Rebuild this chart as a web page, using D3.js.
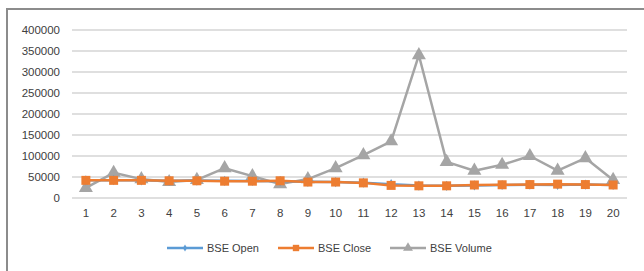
<!DOCTYPE html>
<html><head><meta charset="utf-8">
<script src="https://cdn.jsdelivr.net/npm/d3@7"></script>
<style>body{margin:0;background:#fff;} svg{display:block;}</style>
</head><body>
<svg id="c" width="644" height="271"></svg>
<script>
const categories = d3.range(1, 21).map(String);
const bseOpen   = [42000,42500,42000,41000,41500,41000,40500,40000,38500,38000,36500,33000,29500,29000,30000,31000,31500,31000,32000,31000];
const bseClose  = [42000,42000,42000,41000,41000,40000,40000,41000,38000,38000,36000,30000,29000,29000,31000,31500,32000,33000,32000,31000];
const bseVolume = [24000,60000,45000,38000,43000,71000,52000,33000,45000,71000,102000,135000,340000,86000,65000,79000,100000,65000,95000,43000];
const yTicks = [0,50000,100000,150000,200000,250000,300000,350000,400000];
const seriesNames = ["BSE Open","BSE Close","BSE Volume"];
const colors = ["#5B9BD5","#ED7D31","#A5A5A5"];

const svg = d3.select("#c");
const font = "'Liberation Sans', Arial, sans-serif";
const textColor = "#404040";
// outer border
svg.append("rect").attr("x",7).attr("y",9).attr("width",700).attr("height",300)
  .attr("fill","none").attr("stroke","#8c8c8c").attr("stroke-width",2);

const L = 72, R = 627, T = 30, B = 198;
const x = d3.scaleBand().domain(categories).range([L, R]);
const y = d3.scaleLinear().domain([0, 400000]).range([B, T]);

// gridlines
svg.append("g").selectAll("line").data(yTicks).join("line")
  .attr("x1", L).attr("x2", R).attr("y1", d => y(d)).attr("y2", d => y(d))
  .attr("stroke", "#bfbfbf").attr("stroke-width", 1);

// y axis labels
const yAxis = d3.axisLeft(y).tickValues(yTicks).tickSize(0).tickPadding(0).tickFormat(d3.format("d"));
const gy = svg.append("g").attr("transform", `translate(${L-12},0)`).call(yAxis);
gy.select(".domain").remove();
gy.selectAll("text").attr("font-family", font).attr("font-size", 11.5).attr("fill", textColor);

// x axis labels
const xAxis = d3.axisBottom(x).tickSize(0).tickPadding(0);
const gx = svg.append("g").attr("transform", `translate(0,${B+11})`).call(xAxis);
gx.select(".domain").remove();
gx.selectAll("text").attr("font-family", font).attr("font-size", 11.5).attr("fill", textColor);

const data = [bseOpen, bseClose, bseVolume];
const cx = (d, i) => x(categories[i]) + x.bandwidth() / 2;
const line = d3.line().x((d, i) => cx(d, i)).y(d => y(d));

const symbols = [d3.symbolDiamond, d3.symbolSquare, d3.symbolTriangle];
const sizes = [30, 81, 85];

[2, 0, 1].forEach(s => {
  const g = svg.append("g");
  g.append("path").datum(data[s]).attr("d", line).attr("fill", "none")
    .attr("stroke", colors[s]).attr("stroke-width", 2.5).attr("stroke-linejoin", "round");
  g.selectAll("path.m").data(data[s]).join("path").attr("class", "m")
    .attr("d", d3.symbol().type(symbols[s]).size(sizes[s]))
    .attr("transform", (d, i) => `translate(${cx(d, i)},${y(d)})`)
    .attr("fill", colors[s]);
});

// legend
const legX = [167, 278, 390];
const leg = svg.append("g");
seriesNames.forEach((n, s) => {
  const g = leg.append("g").attr("transform", `translate(${legX[s]},248)`);
  g.append("line").attr("x1", 0).attr("x2", 36).attr("stroke", colors[s]).attr("stroke-width", 2.5);
  g.append("path").attr("d", d3.symbol().type(symbols[s]).size(sizes[s] * 0.5)).attr("transform", "translate(18,0)").attr("fill", colors[s]);
  g.append("text").attr("x", 40).attr("y", 0).attr("dy", "0.35em").text(n)
    .attr("font-family", font).attr("font-size", 11).attr("fill", textColor);
});
</script>
</body></html>
